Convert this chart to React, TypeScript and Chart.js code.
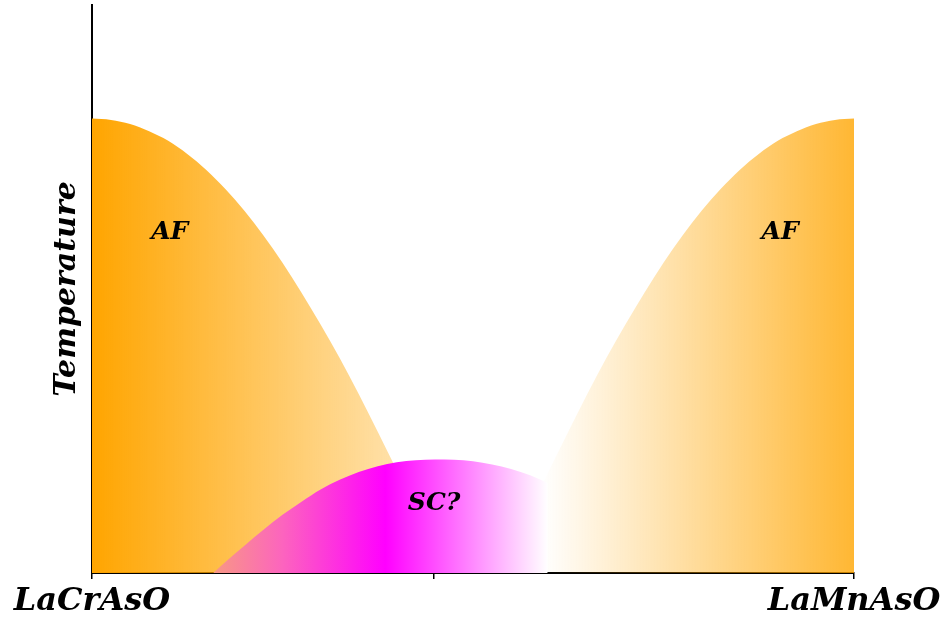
import { useEffect, useRef } from "react";
import { Chart, registerables } from "chart.js";

Chart.register(...registerables);

// Composition axis: end members and an unlabeled midpoint tick
const compositionTicks = [0, 0.448, 1];
const compositionLabels = ["LaCrAsO", "", "LaMnAsO"];

// Antiferromagnetic dome on the Cr side (composition, relative temperature)
const leftAfX = [
  0, 0.025, 0.05, 0.075, 0.1, 0.125, 0.15, 0.175, 0.2, 0.225, 0.25, 0.275, 0.3,
  0.325, 0.35, 0.375, 0.4, 0.425, 0.45, 0.466,
];
const leftAfT = [
  1.0, 0.997, 0.988, 0.972, 0.951, 0.922, 0.887, 0.845, 0.797, 0.743, 0.683,
  0.617, 0.547, 0.473, 0.394, 0.311, 0.226, 0.141, 0.055, 0,
];

// Antiferromagnetic dome on the Mn side
const rightAfX = [
  0.534, 0.55, 0.575, 0.6, 0.625, 0.65, 0.675, 0.7, 0.725, 0.75, 0.775, 0.8,
  0.825, 0.85, 0.875, 0.9, 0.925, 0.95, 0.975, 1,
];
const rightAfT = [
  0, 0.055, 0.141, 0.226, 0.311, 0.394, 0.473, 0.547, 0.617, 0.683, 0.743,
  0.797, 0.845, 0.887, 0.922, 0.951, 0.972, 0.988, 0.997, 1.0,
];

// Possible superconducting dome in between
const scX = [
  0.159, 0.175, 0.2, 0.225, 0.25, 0.275, 0.3, 0.325, 0.35, 0.375, 0.4, 0.425,
  0.45, 0.475, 0.5, 0.525, 0.55, 0.575, 0.598,
];
const scT = [
  0, 0.024, 0.06, 0.095, 0.128, 0.157, 0.184, 0.205, 0.222, 0.235, 0.244, 0.248,
  0.25, 0.249, 0.246, 0.239, 0.229, 0.215, 0.198,
];

// Region labels
const phaseLabels = ["AF", "AF", "SC?"];
const phaseLabelX = [0.102, 0.903, 0.449];
const phaseLabelT = [0.75, 0.75, 0.152];

const SERIF = "'DejaVu Serif', 'Liberation Serif', serif";

type Stop = [number, string];
const leftStops: Stop[] = [
  [0, "rgba(255,165,0,1)"],
  [0.6, "rgba(255,165,0,0)"],
];
const rightStops: Stop[] = [
  [0.59, "rgba(255,165,0,0)"],
  [1, "rgba(255,165,0,0.8)"],
];
// SC dome is opaque: salmon on the Cr side, magenta core, white on the Mn side
const scStops: Stop[] = [
  [0.159, "rgb(248,152,132)"],
  [0.25, "rgb(252,100,190)"],
  [0.385, "rgb(255,0,255)"],
  [0.598, "rgb(255,255,255)"],
];

function horizontalGradient(stops: Stop[]) {
  return (ctx: any) => {
    const chart = ctx.chart;
    const { chartArea, scales } = chart;
    if (!chartArea) return "transparent";
    const x = scales.x;
    const g = chart.ctx.createLinearGradient(
      x.getPixelForValue(0),
      0,
      x.getPixelForValue(1),
      0
    );
    stops.forEach(([p, c]) => g.addColorStop(p, c));
    return g;
  };
}

const toPoints = (xs: number[], ys: number[]) => xs.map((x, i) => ({ x, y: ys[i] }));

const phaseLabelPlugin = {
  id: "phaseLabels",
  afterDatasetsDraw(chart: any) {
    const { ctx, scales } = chart;
    ctx.save();
    ctx.fillStyle = "#000";
    ctx.font = `italic bold 25px ${SERIF}`;
    ctx.textAlign = "center";
    ctx.textBaseline = "middle";
    phaseLabels.forEach((t, i) => {
      ctx.fillText(
        t,
        scales.x.getPixelForValue(phaseLabelX[i]),
        scales.y.getPixelForValue(phaseLabelT[i])
      );
    });
    ctx.restore();
  },
};

export default function App() {
  const canvasRef = useRef<HTMLCanvasElement | null>(null);

  useEffect(() => {
    if (!canvasRef.current) return;
    const common = {
      borderWidth: 0,
      pointRadius: 0,
      fill: "origin",
      cubicInterpolationMode: "monotone",
    };
    const chart = new Chart(canvasRef.current, {
      type: "line",
      data: {
        datasets: [
          {
            ...common,
            label: "SC?",
            data: toPoints(scX, scT),
            backgroundColor: horizontalGradient(scStops),
            order: 0,
          },
          {
            ...common,
            label: "AF (Cr)",
            data: toPoints(leftAfX, leftAfT),
            backgroundColor: horizontalGradient(leftStops),
            order: 1,
          },
          {
            ...common,
            label: "AF (Mn)",
            data: toPoints(rightAfX, rightAfT),
            backgroundColor: horizontalGradient(rightStops),
            order: 2,
          },
        ] as any,
      },
      options: {
        animation: false,
        responsive: true,
        maintainAspectRatio: false,
        layout: { padding: { top: 5, right: 90, left: 0, bottom: 0 } },
        plugins: {
          legend: { display: false },
          tooltip: { enabled: false },
        },
        scales: {
          x: {
            type: "linear",
            min: 0,
            max: 1,
            z: 1,
            afterBuildTicks: (s: any) => {
              s.ticks = compositionTicks.map((v) => ({ value: v }));
            },
            afterFit: (s: any) => {
              s.height = 46;
            },
            ticks: {
              autoSkip: false,
              maxRotation: 0,
              color: "#000",
              padding: 3,
              font: { family: SERIF, size: 32, style: "italic", weight: "bold" },
              callback: (_v: any, i: number) => compositionLabels[i],
            },
            grid: {
              drawOnChartArea: false,
              drawTicks: true,
              tickLength: 6,
              color: "#000",
              lineWidth: 1.5,
            },
            border: { display: true, color: "#000", width: 2 },
          },
          y: {
            type: "linear",
            min: 0,
            max: 1.25,
            afterFit: (s: any) => {
              s.width = 92;
            },
            ticks: { display: false },
            grid: { display: false },
            border: { display: true, color: "#000", width: 2 },
            title: {
              display: true,
              text: "Temperature",
              color: "#000",
              font: { family: SERIF, size: 30, style: "italic", weight: "bold" },
              padding: { top: 49, bottom: 0 },
            },
          },
        },
      } as any,
      plugins: [phaseLabelPlugin],
    });
    return () => chart.destroy();
  }, []);

  return (
    <div style={{ position: "absolute", left: 0, top: 0, width: 944, height: 619 }}>
      <canvas ref={canvasRef} />
    </div>
  );
}
